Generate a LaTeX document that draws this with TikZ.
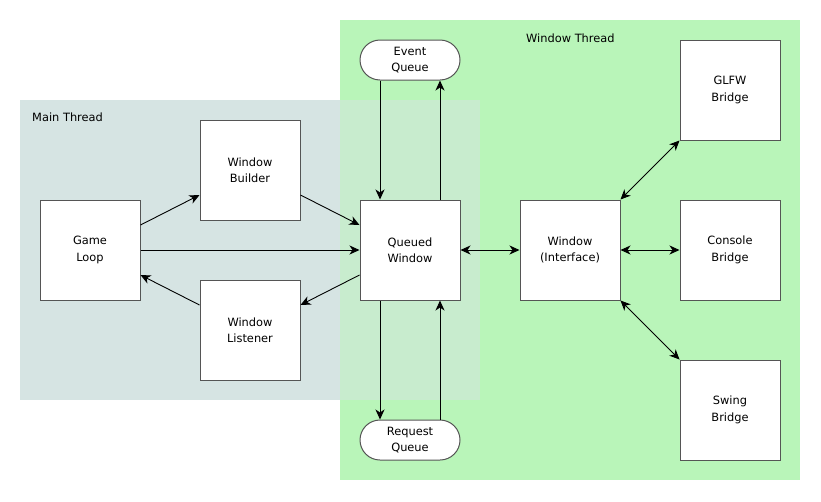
\documentclass[tikz,border=0pt]{standalone}
\usepackage{fontspec}
\setmainfont{DejaVu Sans}
\usetikzlibrary{positioning, arrows.meta}

\definecolor{mainfill}{HTML}{D6E4E3}
\definecolor{winfill}{HTML}{B9F5B9}
\definecolor{overlapfill}{HTML}{C8ECCE}
\definecolor{boxline}{HTML}{555555}

\begin{document}
\begin{tikzpicture}[
    x=1pt, y=-1pt,
    font=\fontsize{11.4}{16.5}\selectfont,
    % Styles
    block/.style={draw=boxline, fill=white, line width=1pt, minimum width=100pt, minimum height=100pt, inner sep=0pt, align=center},
    queue/.style={draw=boxline, fill=white, line width=1pt, rounded corners=20pt, minimum width=100pt, minimum height=40pt, inner sep=0pt, align=center},
    arrow/.style={-{Stealth[length=10pt, width=9pt, inset=3pt]}, line width=0.9pt, black},
    both-arrow/.style={{Stealth[length=10pt, width=9pt, inset=3pt]}-{Stealth[length=10pt, width=9pt, inset=3pt]}, line width=0.9pt, black},
    region-label/.style={anchor=west, inner sep=0pt},
]
\useasboundingbox (0,0) rectangle (821,501);

% Thread regions
\fill[winfill] (340,20) rectangle (800,480);
\fill[mainfill] (20,100) rectangle (340,400);
\fill[overlapfill] (340,100) rectangle (480,400);
\node[region-label] (mainlabel) at (32,117) {Main Thread};
\node[region-label] (winlabel) at (526,38) {Window Thread};

% Main thread
\node[block] (game) at (90,250) {Game\\Loop};
\node[block] (builder) at (250,170) {Window\\Builder};
\node[block] (listener) at (250,330) {Window\\Listener};

% Queues
\node[block] (queued) at (410,250) {Queued\\Window};
\node[queue] (events) at (410,60) {Event\\Queue};
\node[queue] (requests) at (410,440) {Request\\Queue};

% Window thread
\node[block] (window) at (570,250) {Window\\(Interface)};
\node[block] (glfw) at (730,90) {GLFW\\Bridge};
\node[block] (console) at (730,250) {Console\\Bridge};
\node[block] (swing) at (730,410) {Swing\\Bridge};

% Connectors
\draw[arrow] ([yshift=25pt]game.east) -- ([yshift=-25pt]builder.west);
\draw[arrow] ([yshift=-25pt]builder.east) -- ([yshift=25pt]queued.west);
\draw[arrow] (game.east) -- (queued.west);
\draw[arrow] ([yshift=-25pt]queued.west) -- ([yshift=25pt]listener.east);
\draw[arrow] ([yshift=25pt]listener.west) -- ([yshift=-25pt]game.east);

\draw[arrow] ([xshift=-30pt]events.south) -- ([xshift=-30pt]queued.north);
\draw[arrow] ([xshift=30pt]queued.north) -- ([xshift=30pt]events.south);
\draw[arrow] ([xshift=-30pt]queued.south) -- ([xshift=-30pt]requests.north);
\draw[arrow] ([xshift=30pt]requests.north) -- ([xshift=30pt]queued.south);

\draw[both-arrow] (queued.east) -- (window.west);
\draw[both-arrow] (window.north east) -- (glfw.south west);
\draw[both-arrow] (window.east) -- (console.west);
\draw[both-arrow] (window.south east) -- (swing.north west);

\end{tikzpicture}
\end{document}
